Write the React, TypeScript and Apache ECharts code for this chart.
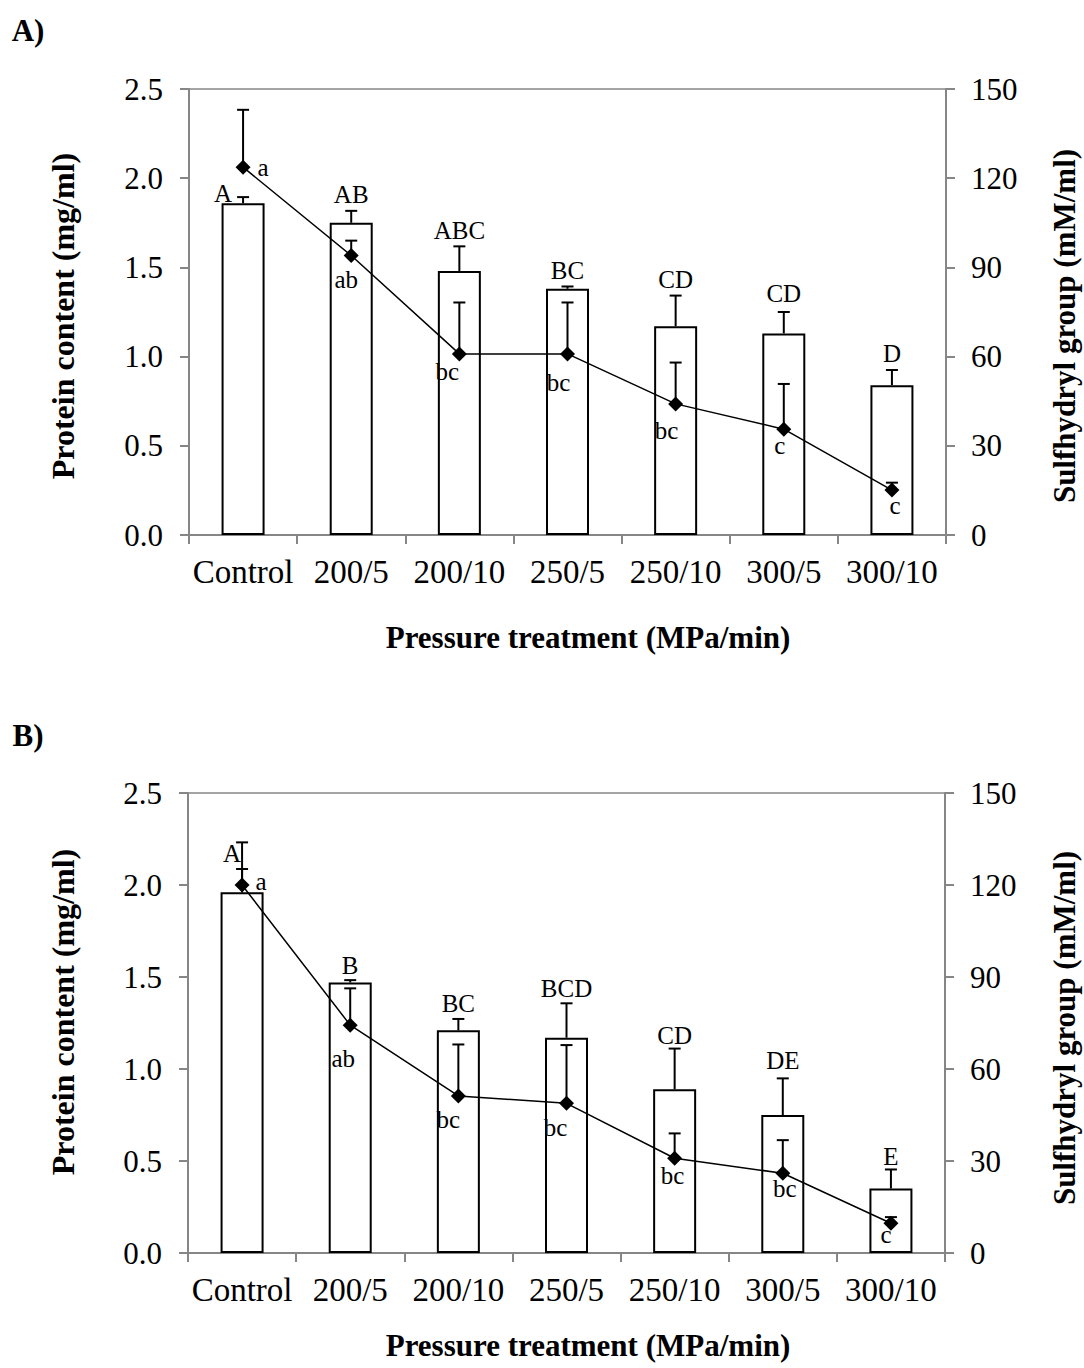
import React, { useEffect, useRef } from "react";
import * as echarts from "echarts";

const categories = ["Control", "200/5", "200/10", "250/5", "250/10", "300/5", "300/10"];

// Panel A
const proteinA = [1.86, 1.75, 1.48, 1.38, 1.17, 1.13, 0.84];
const proteinErrA = [0.034, 0.067, 0.138, 0.013, 0.172, 0.12, 0.085];
const sulfA = [123.7, 94.0, 60.9, 60.9, 44.1, 35.6, 15.1];
const sulfErrA = [19.3, 5.0, 17.3, 17.3, 13.9, 15.2, 2.5];
const proteinLettersA = ["A", "AB", "ABC", "BC", "CD", "CD", "D"];
const sulfLettersA = ["a", "ab", "bc", "bc", "bc", "c", "c"];

// Panel B
const proteinB = [1.96, 1.47, 1.21, 1.17, 0.89, 0.75, 0.35];
const proteinErrB = [0.127, 0.013, 0.062, 0.187, 0.221, 0.199, 0.104];
const sulfB = [120.0, 74.3, 51.2, 48.8, 30.9, 26.0, 9.7];
const sulfErrB = [13.9, 12.0, 16.8, 19.0, 8.1, 10.8, 2.0];
const proteinLettersB = ["A", "B", "BC", "BCD", "CD", "DE", "E"];
const sulfLettersB = ["a", "ab", "bc", "bc", "bc", "bc", "c"];

// Axis ticks
const leftMax = 2.5;
const leftStep = 0.5;
const rightMax = 150;
const rightStep = 30;

// Label layout offsets (px) – styling, not data
const barLabelOffA = [[-20, -4], [0, -16], [0, -16], [0, -16], [0, -16], [0, -19], [0, -16]];
const lineLabelOffA = [[20, 0], [-5, 24], [-12, 18], [-9, 29], [-9, 27], [-4, 16], [3, 15]];
const barLabelOffB = [[-10, -15], [0, -15], [0, -15], [0, -15], [0, -13], [0, -18], [0, -13]];
const lineLabelOffB = [[19, -4], [-7, 33], [-10, 24], [-11, 24], [-2, 17], [2, 15], [-5, 11]];

const FONT = '"Liberation Serif", "Times New Roman", serif';
const AXIS_GRAY = "#868686";

function errSeries(
  name: string,
  xAxisIndex: number,
  yAxisIndex: number,
  vals: number[],
  errs: number[],
  letters: string[],
  offs: number[][],
  labelFromTop: boolean
) {
  return {
    name,
    type: "custom",
    xAxisIndex,
    yAxisIndex,
    z: 5,
    clip: false,
    encode: { x: 0, y: 1 },
    data: vals.map((v, i) => [i, v, errs[i]]),
    renderItem: (params: any, api: any) => {
      const i = api.value(0);
      const v = api.value(1);
      const e = api.value(2);
      const base = api.coord([i, v]);
      const top = api.coord([i, v + e]);
      const x = base[0];
      const cap = 6;
      const ref = labelFromTop ? top[1] : base[1];
      const off = offs[params.dataIndex];
      return {
        type: "group",
        children: [
          {
            type: "line",
            shape: { x1: x, y1: base[1], x2: x, y2: top[1] },
            style: { stroke: "#000", lineWidth: 2 },
          },
          {
            type: "line",
            shape: { x1: x - cap, y1: top[1], x2: x + cap, y2: top[1] },
            style: { stroke: "#000", lineWidth: 2 },
          },
          {
            type: "text",
            x: x + off[0],
            y: ref + off[1],
            style: {
              text: letters[params.dataIndex],
              fontSize: 25,
              fontFamily: FONT,
              fill: "#000",
              align: "center",
              verticalAlign: "middle",
            },
          },
        ],
      };
    },
  };
}

function xAxisFor(gridIndex: number) {
  return {
    type: "category",
    gridIndex,
    data: categories,
    axisLine: { show: true, lineStyle: { color: AXIS_GRAY, width: 2 } },
    axisTick: { show: true, length: 9, interval: 0, lineStyle: { color: AXIS_GRAY, width: 2 } },
    axisLabel: { fontSize: 33, fontFamily: FONT, color: "#000", margin: 20, interval: 0 },
    splitLine: { show: false },
  };
}

function yAxisFor(gridIndex: number, right: boolean) {
  return {
    type: "value",
    gridIndex,
    position: right ? "right" : "left",
    min: 0,
    max: right ? rightMax : leftMax,
    interval: right ? rightStep : leftStep,
    axisLine: { show: true, lineStyle: { color: AXIS_GRAY, width: 2 } },
    axisTick: { show: true, length: 9, lineStyle: { color: AXIS_GRAY, width: 2 } },
    axisLabel: {
      fontSize: 31,
      fontFamily: FONT,
      color: "#000",
      margin: right ? 25 : 26,
      formatter: (v: number) => (right ? String(v) : v.toFixed(1)),
    },
    splitLine: { show: false },
  };
}

function barSeries(xAxisIndex: number, yAxisIndex: number, vals: number[]) {
  return {
    type: "bar",
    xAxisIndex,
    yAxisIndex,
    data: vals,
    barWidth: 43,
    z: 2,
    itemStyle: { color: "#fff", borderColor: "#000", borderWidth: 2 },
  };
}

function lineSeries(xAxisIndex: number, yAxisIndex: number, vals: number[]) {
  return {
    type: "line",
    xAxisIndex,
    yAxisIndex,
    data: vals,
    z: 10,
    symbol: "diamond",
    symbolSize: 15,
    showSymbol: true,
    lineStyle: { color: "#000", width: 1.5 },
    itemStyle: { color: "#000" },
  };
}

function titleText(text: string, x: number, y: number, rotate: boolean, size: number) {
  return {
    type: "text",
    x,
    y,
    rotation: rotate ? Math.PI / 2 : 0,
    style: {
      text,
      fontSize: size,
      fontWeight: "bold",
      fontFamily: FONT,
      fill: "#000",
      align: "center",
      verticalAlign: "middle",
    },
  };
}

export default function App() {
  const ref = useRef<HTMLDivElement>(null);
  useEffect(() => {
    document.body.style.margin = "0";
    if (!ref.current) return;
    const chart = echarts.init(ref.current, null, { renderer: "svg" });
    chart.setOption({
      animation: false,
      backgroundColor: "#fff",
      grid: [
        { left: 189, top: 89, width: 757, height: 446, show: true, borderColor: AXIS_GRAY, borderWidth: 1.5, backgroundColor: "transparent" },
        { left: 188, top: 793, width: 757, height: 460, show: true, borderColor: AXIS_GRAY, borderWidth: 1.5, backgroundColor: "transparent" },
      ],
      xAxis: [xAxisFor(0), xAxisFor(1)],
      yAxis: [yAxisFor(0, false), yAxisFor(0, true), yAxisFor(1, false), yAxisFor(1, true)],
      series: [
        barSeries(0, 0, proteinA),
        errSeries("errA", 0, 0, proteinA, proteinErrA, proteinLettersA, barLabelOffA, true),
        errSeries("errSA", 0, 1, sulfA, sulfErrA, sulfLettersA, lineLabelOffA, false),
        lineSeries(0, 1, sulfA),
        barSeries(1, 2, proteinB),
        errSeries("errB", 1, 2, proteinB, proteinErrB, proteinLettersB, barLabelOffB, true),
        errSeries("errSB", 1, 3, sulfB, sulfErrB, sulfLettersB, lineLabelOffB, false),
        lineSeries(1, 3, sulfB),
      ],
      graphic: [
        titleText("A)", 28, 30, false, 31),
        titleText("B)", 28, 735, false, 31),
        titleText("Protein content (mg/ml)", 63, 316, true, 32),
        titleText("Sulfhydryl group (mM/ml)", 1064, 326, true, 31),
        titleText("Pressure treatment (MPa/min)", 588, 637, false, 31),
        titleText("Protein content (mg/ml)", 63, 1012, true, 32),
        titleText("Sulfhydryl group (mM/ml)", 1064, 1028, true, 31),
        titleText("Pressure treatment (MPa/min)", 588, 1345, false, 31),
      ],
    });
    return () => chart.dispose();
  }, []);
  return <div ref={ref} style={{ width: 1084, height: 1368 }} />;
}
